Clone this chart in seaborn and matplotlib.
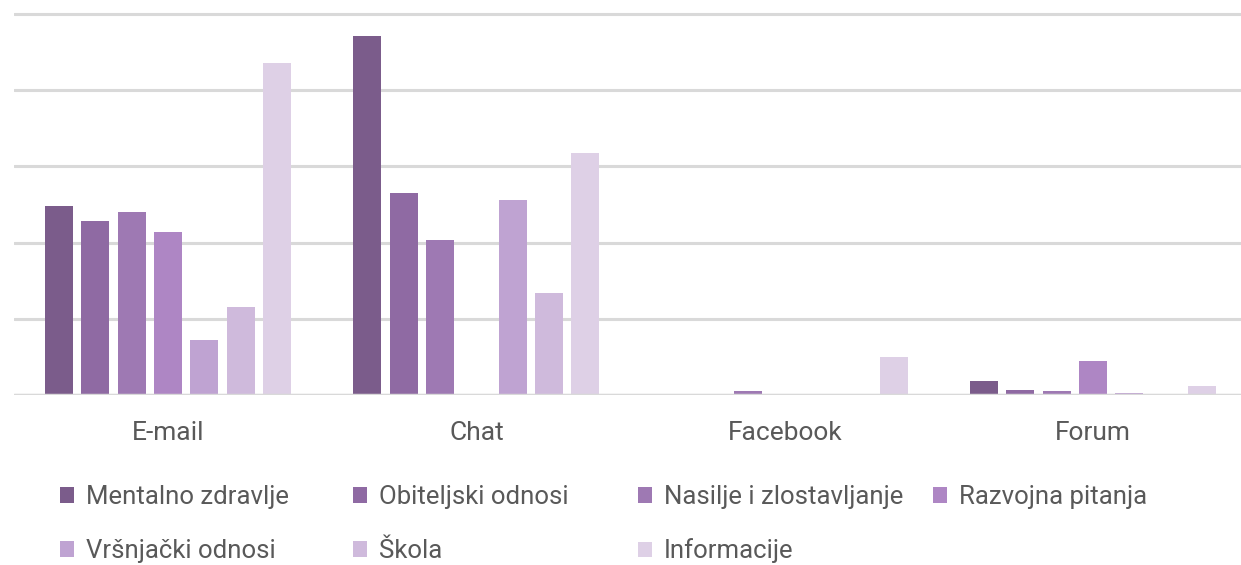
import matplotlib
matplotlib.use("Agg")
import matplotlib.pyplot as plt
import seaborn as sns
import pandas as pd
from matplotlib.patches import Patch

channels = ["E-mail", "Chat", "Facebook", "Forum"]
topics = ["Mentalno zdravlje", "Obiteljski odnosi", "Nasilje i zlostavljanje",
          "Razvojna pitanja", "Vršnjački odnosi", "Škola", "Informacije"]
mentalno = [49.6, 94.2, 0.0, 3.7]
obiteljski = [45.7, 53.0, 0.0, 1.3]
nasilje = [48.0, 40.7, 1.0, 1.0]
razvojna = [42.8, 0.0, 0.0, 9.0]
vrsnjacki = [14.4, 51.2, 0.0, 0.5]
skola = [23.1, 26.8, 0.0, 0.0]
informacije = [87.1, 63.5, 10.0, 2.4]
yticks = [0, 20, 40, 60, 80, 100]

colors = ["#7b5c8b", "#8f6aa3", "#9e79b3", "#ae86c4", "#bfa3d2", "#cfbadc", "#ded0e6"]

series = [mentalno, obiteljski, nasilje, razvojna, vrsnjacki, skola, informacije]
rows = []
for t, vals in zip(topics, series):
    for c, v in zip(channels, vals):
        rows.append({"Kanal": c, "Tema": t, "Vrijednost": v})
df = pd.DataFrame(rows)

sns.set_theme(style="white")
plt.rcParams["font.family"] = ["Roboto", "DejaVu Sans"]

W, H = 1241, 565
fig = plt.figure(figsize=(W / 100, H / 100), dpi=100)
ax = fig.add_axes([14 / W, (H - 395) / H, 1 - 14 / W, (395 - 10) / H])

sns.barplot(data=df, x="Kanal", y="Vrijednost", hue="Tema", order=channels,
            hue_order=topics, palette=colors, width=0.825, gap=0.23,
            linewidth=0, saturation=1, ax=ax, legend=False, zorder=3)

ax.set_xlim(-0.5, 3.48)
ax.set_ylim(0, 101.05)
ax.set_yticks(yticks)
ax.set_yticklabels([])
ax.tick_params(axis="y", length=0)
ax.tick_params(axis="x", length=0, pad=19, labelsize=19, labelcolor="#595959")
ax.grid(axis="y", color="#d9d9d9", linewidth=2.2, zorder=0)
ax.set_axisbelow(True)
for s in ax.spines.values():
    s.set_visible(False)
ax.axhline(0, color="#d9d9d9", linewidth=2.5, zorder=4)
ax.set_xlabel("")
ax.set_ylabel("")

col_x = [60, 353, 638, 933]
row_y = [497, 551]
for i, (c, t) in enumerate(zip(colors, topics)):
    r, col = divmod(i, 4)
    h = Patch(facecolor=c, edgecolor="none", label=t)
    leg = fig.legend([h], [t], loc="center left",
                     bbox_to_anchor=(col_x[col] / W, 1 - row_y[r] / H),
                     frameon=False, fontsize=18.5, handlelength=0.55, handleheight=0.55,
                     handletextpad=0.45, borderaxespad=0, borderpad=0)
    for txt in leg.get_texts():
        txt.set_color("#595959")

fig.savefig("out.png", dpi=100, facecolor="white")
